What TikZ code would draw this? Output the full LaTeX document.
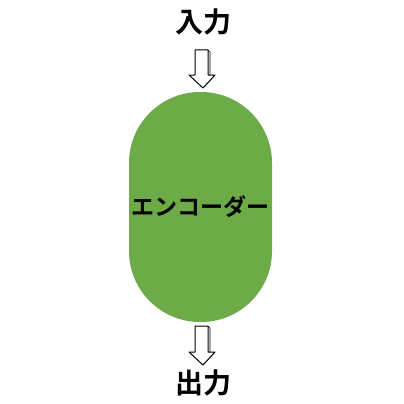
\documentclass[tikz,border=0pt]{standalone}
\usepackage{fontspec}
\newfontfamily\jpfont{Noto Sans CJK JP Bold}
\begin{document}
\begin{tikzpicture}[x=1pt, y=-1pt, line join=round, line cap=round]
	\definecolor{enccolor}{HTML}{6CAB47}
	\tikzset{
		label/.style={font=\jpfont\fontsize{28}{28}\selectfont, inner sep=0pt},
		encoder/.style={fill=enccolor, rounded corners=71pt, minimum width=143pt, minimum height=230pt, inner sep=0pt, font=\jpfont\fontsize{23}{23}\selectfont},
		arrowbox/.style={draw=black, fill=white, line width=1pt}
	}
	\useasboundingbox (0,0) rectangle (404,404);
	\node[label] (in) at (203,22) {入力};
	\node[encoder] (enc) at (200.5,207) {エンコーダー};
	\node[label] (out) at (203,383) {出力};
	% block arrows
	\foreach \top/\bot in {50/88, 326/365} {
		\draw[arrowbox] (195,\top) -- (208,\top) -- (208,\bot-13) -- (215,\bot-13) -- (203,\bot)
			-- (189,\bot-13) -- (195,\bot-13) -- cycle;
		\draw[line width=0.6pt] (208,\top) -- (210,\top+2) -- (210,\bot-13);
	}
\end{tikzpicture}
\end{document}
